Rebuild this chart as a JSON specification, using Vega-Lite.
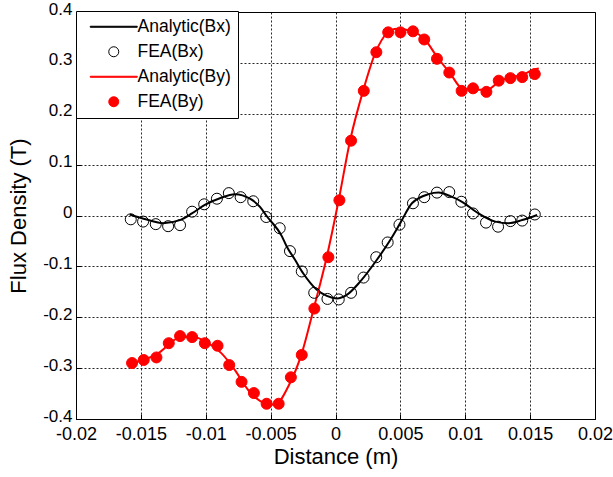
{
  "$schema": "https://vega.github.io/schema/vega-lite/v6.json",
  "width": 519,
  "height": 407,
  "autosize": {"type": "none"},
  "padding": {"left": 76, "top": 12, "right": 18, "bottom": 58},
  "background": "white",
  "config": {
    "font": "Liberation Sans",
    "view": {"stroke": "black", "strokeWidth": 1},
    "axis": {
      "labelFont": "Liberation Sans",
      "labelFontSize": 18,
      "labelColor": "black",
      "labelOverlap": false,
      "labelFlush": false,
      "titleFont": "Liberation Sans",
      "titleFontSize": 22,
      "titleFontWeight": "normal",
      "titleColor": "black",
      "domainColor": "black",
      "tickColor": "black",
      "ticks": true,
      "grid": true,
      "gridColor": "black",
      "gridDash": [2, 2],
      "gridOpacity": 0.85,
      "gridWidth": 1
    },
    "legend": {
      "orient": "none",
      "legendX": 0,
      "legendY": -1,
      "labelFont": "Liberation Sans",
      "labelFontSize": 17.5,
      "labelColor": "black",
      "strokeColor": "black",
      "fillColor": "white",
      "padding": 7,
      "rowPadding": 6,
      "symbolSize": 100,
      "symbolStrokeWidth": 1,
      "symbolOffset": 22,
      "labelOffset": 15,
      "labelLimit": 200
    }
  },
  "datasets": {
    "analytic": [
      {"series": "Analytic(Bx)", "x": -0.01586, "y": 0.002},
      {"series": "Analytic(Bx)", "x": -0.01455, "y": -0.008},
      {"series": "Analytic(Bx)", "x": -0.01329, "y": -0.015},
      {"series": "Analytic(Bx)", "x": -0.012, "y": -0.009},
      {"series": "Analytic(Bx)", "x": -0.01107, "y": 0.004},
      {"series": "Analytic(Bx)", "x": -0.01007, "y": 0.021},
      {"series": "Analytic(Bx)", "x": -0.00891, "y": 0.034},
      {"series": "Analytic(Bx)", "x": -0.00775, "y": 0.042},
      {"series": "Analytic(Bx)", "x": -0.00659, "y": 0.033},
      {"series": "Analytic(Bx)", "x": -0.00582, "y": 0.017},
      {"series": "Analytic(Bx)", "x": -0.00531, "y": -0.001},
      {"series": "Analytic(Bx)", "x": -0.00415, "y": -0.04},
      {"series": "Analytic(Bx)", "x": -0.00376, "y": -0.061},
      {"series": "Analytic(Bx)", "x": -0.00312, "y": -0.087},
      {"series": "Analytic(Bx)", "x": -0.00248, "y": -0.114},
      {"series": "Analytic(Bx)", "x": -0.00144, "y": -0.146},
      {"series": "Analytic(Bx)", "x": -0.00067, "y": -0.158},
      {"series": "Analytic(Bx)", "x": 0.0001, "y": -0.163},
      {"series": "Analytic(Bx)", "x": 0.00087, "y": -0.156},
      {"series": "Analytic(Bx)", "x": 0.0019, "y": -0.13},
      {"series": "Analytic(Bx)", "x": 0.00319, "y": -0.087},
      {"series": "Analytic(Bx)", "x": 0.00422, "y": -0.048},
      {"series": "Analytic(Bx)", "x": 0.00499, "y": -0.015},
      {"series": "Analytic(Bx)", "x": 0.00589, "y": 0.024},
      {"series": "Analytic(Bx)", "x": 0.00717, "y": 0.042},
      {"series": "Analytic(Bx)", "x": 0.00795, "y": 0.045},
      {"series": "Analytic(Bx)", "x": 0.00885, "y": 0.038},
      {"series": "Analytic(Bx)", "x": 0.00975, "y": 0.027},
      {"series": "Analytic(Bx)", "x": 0.01103, "y": 0.004},
      {"series": "Analytic(Bx)", "x": 0.01232, "y": -0.012},
      {"series": "Analytic(Bx)", "x": 0.01335, "y": -0.015},
      {"series": "Analytic(Bx)", "x": 0.01439, "y": -0.009},
      {"series": "Analytic(Bx)", "x": 0.01554, "y": 0.001},
      {"series": "Analytic(By)", "x": -0.01586, "y": -0.29},
      {"series": "Analytic(By)", "x": -0.0147, "y": -0.283},
      {"series": "Analytic(By)", "x": -0.01368, "y": -0.271},
      {"series": "Analytic(By)", "x": -0.01213, "y": -0.241},
      {"series": "Analytic(By)", "x": -0.0111, "y": -0.238},
      {"series": "Analytic(By)", "x": -0.00981, "y": -0.251},
      {"series": "Analytic(By)", "x": -0.00878, "y": -0.271},
      {"series": "Analytic(By)", "x": -0.00775, "y": -0.304},
      {"series": "Analytic(By)", "x": -0.00673, "y": -0.343},
      {"series": "Analytic(By)", "x": -0.00544, "y": -0.369},
      {"series": "Analytic(By)", "x": -0.00466, "y": -0.372},
      {"series": "Analytic(By)", "x": -0.00364, "y": -0.336},
      {"series": "Analytic(By)", "x": -0.0026, "y": -0.271},
      {"series": "Analytic(By)", "x": -0.00171, "y": -0.186},
      {"series": "Analytic(By)", "x": -0.00067, "y": -0.081},
      {"series": "Analytic(By)", "x": 0.00022, "y": 0.027},
      {"series": "Analytic(By)", "x": 0.00113, "y": 0.148},
      {"series": "Analytic(By)", "x": 0.00215, "y": 0.247},
      {"series": "Analytic(By)", "x": 0.00306, "y": 0.319},
      {"series": "Analytic(By)", "x": 0.00396, "y": 0.358},
      {"series": "Analytic(By)", "x": 0.00473, "y": 0.367},
      {"series": "Analytic(By)", "x": 0.00602, "y": 0.361},
      {"series": "Analytic(By)", "x": 0.00692, "y": 0.345},
      {"series": "Analytic(By)", "x": 0.00782, "y": 0.312},
      {"series": "Analytic(By)", "x": 0.00885, "y": 0.279},
      {"series": "Analytic(By)", "x": 0.00975, "y": 0.25},
      {"series": "Analytic(By)", "x": 0.01065, "y": 0.247},
      {"series": "Analytic(By)", "x": 0.01168, "y": 0.247},
      {"series": "Analytic(By)", "x": 0.01258, "y": 0.263},
      {"series": "Analytic(By)", "x": 0.01348, "y": 0.272},
      {"series": "Analytic(By)", "x": 0.01439, "y": 0.276},
      {"series": "Analytic(By)", "x": 0.01528, "y": 0.287},
      {"series": "Analytic(By)", "x": 0.01567, "y": 0.289}
    ],
    "fea": [
      {"series": "FEA(Bx)", "x": -0.01578, "y": -0.0075},
      {"series": "FEA(Bx)", "x": -0.01483, "y": -0.012},
      {"series": "FEA(Bx)", "x": -0.01385, "y": -0.017},
      {"series": "FEA(Bx)", "x": -0.0129, "y": -0.021},
      {"series": "FEA(Bx)", "x": -0.01198, "y": -0.019},
      {"series": "FEA(Bx)", "x": -0.01105, "y": 0.0075},
      {"series": "FEA(Bx)", "x": -0.01012, "y": 0.022},
      {"series": "FEA(Bx)", "x": -0.00914, "y": 0.033},
      {"series": "FEA(Bx)", "x": -0.00822, "y": 0.044},
      {"series": "FEA(Bx)", "x": -0.00731, "y": 0.036},
      {"series": "FEA(Bx)", "x": -0.00634, "y": 0.028},
      {"series": "FEA(Bx)", "x": -0.00534, "y": -0.003},
      {"series": "FEA(Bx)", "x": -0.0043, "y": -0.025},
      {"series": "FEA(Bx)", "x": -0.00351, "y": -0.07},
      {"series": "FEA(Bx)", "x": -0.0026, "y": -0.11},
      {"series": "FEA(Bx)", "x": -0.00164, "y": -0.152},
      {"series": "FEA(Bx)", "x": -0.00062, "y": -0.164},
      {"series": "FEA(Bx)", "x": 0.00025, "y": -0.165},
      {"series": "FEA(Bx)", "x": 0.0012, "y": -0.152},
      {"series": "FEA(Bx)", "x": 0.00216, "y": -0.122},
      {"series": "FEA(Bx)", "x": 0.00314, "y": -0.082},
      {"series": "FEA(Bx)", "x": 0.00402, "y": -0.053},
      {"series": "FEA(Bx)", "x": 0.00493, "y": -0.018},
      {"series": "FEA(Bx)", "x": 0.00597, "y": 0.024},
      {"series": "FEA(Bx)", "x": 0.00684, "y": 0.036},
      {"series": "FEA(Bx)", "x": 0.00782, "y": 0.045},
      {"series": "FEA(Bx)", "x": 0.00877, "y": 0.046},
      {"series": "FEA(Bx)", "x": 0.0097, "y": 0.027},
      {"series": "FEA(Bx)", "x": 0.0106, "y": 0.004},
      {"series": "FEA(Bx)", "x": 0.0116, "y": -0.014},
      {"series": "FEA(Bx)", "x": 0.01253, "y": -0.022},
      {"series": "FEA(Bx)", "x": 0.01348, "y": -0.011},
      {"series": "FEA(Bx)", "x": 0.01439, "y": -0.01},
      {"series": "FEA(Bx)", "x": 0.01536, "y": 0.002},
      {"series": "FEA(By)", "x": -0.01568, "y": -0.29},
      {"series": "FEA(By)", "x": -0.01478, "y": -0.284},
      {"series": "FEA(By)", "x": -0.0138, "y": -0.279},
      {"series": "FEA(By)", "x": -0.01285, "y": -0.251},
      {"series": "FEA(By)", "x": -0.01198, "y": -0.237},
      {"series": "FEA(By)", "x": -0.01105, "y": -0.239},
      {"series": "FEA(By)", "x": -0.01007, "y": -0.251},
      {"series": "FEA(By)", "x": -0.00909, "y": -0.256},
      {"series": "FEA(By)", "x": -0.00819, "y": -0.294},
      {"series": "FEA(By)", "x": -0.00724, "y": -0.327},
      {"series": "FEA(By)", "x": -0.00629, "y": -0.349},
      {"series": "FEA(By)", "x": -0.00531, "y": -0.37},
      {"series": "FEA(By)", "x": -0.00438, "y": -0.37},
      {"series": "FEA(By)", "x": -0.00344, "y": -0.318},
      {"series": "FEA(By)", "x": -0.0026, "y": -0.274},
      {"series": "FEA(By)", "x": -0.00163, "y": -0.183},
      {"series": "FEA(By)", "x": -0.00055, "y": -0.082},
      {"series": "FEA(By)", "x": 0.0003, "y": 0.03},
      {"series": "FEA(By)", "x": 0.0012, "y": 0.147},
      {"series": "FEA(By)", "x": 0.00218, "y": 0.245},
      {"series": "FEA(By)", "x": 0.00315, "y": 0.321},
      {"series": "FEA(By)", "x": 0.00406, "y": 0.36},
      {"series": "FEA(By)", "x": 0.00501, "y": 0.36},
      {"series": "FEA(By)", "x": 0.00597, "y": 0.362},
      {"series": "FEA(By)", "x": 0.00684, "y": 0.346},
      {"series": "FEA(By)", "x": 0.00782, "y": 0.308},
      {"series": "FEA(By)", "x": 0.00877, "y": 0.281},
      {"series": "FEA(By)", "x": 0.00972, "y": 0.245},
      {"series": "FEA(By)", "x": 0.0106, "y": 0.25},
      {"series": "FEA(By)", "x": 0.01163, "y": 0.243},
      {"series": "FEA(By)", "x": 0.01258, "y": 0.265},
      {"series": "FEA(By)", "x": 0.01348, "y": 0.27},
      {"series": "FEA(By)", "x": 0.01439, "y": 0.272},
      {"series": "FEA(By)", "x": 0.01536, "y": 0.278}
    ]
  },
  "encoding": {
    "x": {
      "field": "x",
      "type": "quantitative",
      "scale": {"domain": [-0.02, 0.02], "nice": false, "zero": false},
      "axis": {
        "title": "Distance (m)",
        "values": [-0.02, -0.015, -0.01, -0.005, 0, 0.005, 0.01, 0.015, 0.02],
        "labelExpr": "'' + datum.value",
        "labelPadding": 11,
        "tickSize": -5,
        "titlePadding": 3
      }
    },
    "y": {
      "field": "y",
      "type": "quantitative",
      "scale": {"domain": [-0.4, 0.4], "nice": false, "zero": false},
      "axis": {
        "title": "Flux Density (T)",
        "values": [-0.4, -0.3, -0.2, -0.1, 0, 0.1, 0.2, 0.3, 0.4],
        "labelExpr": "'' + datum.value",
        "labelFontSize": 17,
        "labelPadding": 9,
        "labelOffset": -3,
        "tickSize": -5,
        "titlePadding": 12
      }
    }
  },
  "layer": [
    {
      "data": {"name": "analytic"},
      "mark": {"type": "line", "strokeWidth": 2, "interpolate": "monotone"},
      "encoding": {
        "stroke": {
          "field": "series",
          "type": "nominal",
          "scale": {
            "domain": ["Analytic(Bx)", "FEA(Bx)", "Analytic(By)", "FEA(By)"],
            "range": ["black", "black", "red", "red"]
          },
          "legend": {"title": null}
        },
        "detail": {"field": "series", "type": "nominal"}
      }
    },
    {
      "data": {"name": "fea"},
      "mark": {"type": "point", "size": 121, "strokeWidth": 1, "opacity": 1},
      "encoding": {
        "stroke": {
          "field": "series",
          "type": "nominal",
          "scale": {
            "domain": ["Analytic(Bx)", "FEA(Bx)", "Analytic(By)", "FEA(By)"],
            "range": ["black", "black", "red", "red"]
          },
          "legend": {"title": null}
        },
        "fill": {
          "field": "series",
          "type": "nominal",
          "scale": {
            "domain": ["Analytic(Bx)", "FEA(Bx)", "Analytic(By)", "FEA(By)"],
            "range": ["black", "transparent", "red", "red"]
          },
          "legend": {"title": null}
        },
        "shape": {
          "field": "series",
          "type": "nominal",
          "scale": {
            "domain": ["Analytic(Bx)", "FEA(Bx)", "Analytic(By)", "FEA(By)"],
            "range": ["M-4.7,-0.1L4.7,-0.1L4.7,0.1L-4.7,0.1Z", "circle", "M-4.7,-0.1L4.7,-0.1L4.7,0.1L-4.7,0.1Z", "circle"]
          },
          "legend": {"title": null}
        }
      }
    }
  ]
}
